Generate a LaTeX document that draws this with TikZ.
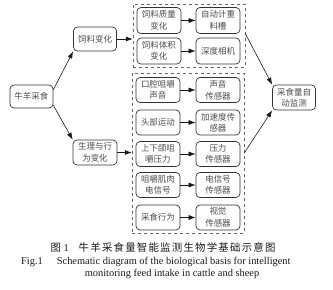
\documentclass[tikz,border=0pt]{standalone}
\usepackage{fontspec}
\setmainfont{Liberation Serif}
\newfontfamily\cjk{Noto Sans CJK SC}
\newfontfamily\capcjk[LetterSpace=12]{Noto Sans CJK SC}
\usetikzlibrary{arrows.meta}
\begin{document}
\begin{tikzpicture}[x=1pt,y=-1pt,
  box/.style={draw=black!80, line width=0.7pt, rounded corners=4pt, minimum width=44pt, minimum height=25pt,
    inner sep=0pt, align=center, text=black!70, font=\cjk\fontsize{8.5}{11.5}\selectfont},
  grp/.style={draw=black!60, dashed, line width=0.5pt, inner sep=0pt},
  arr/.style={-{Latex[length=7pt,width=5pt]}, line width=0.6pt, black!90},
  captext/.style={font=\fontsize{10.4}{12}\selectfont, inner sep=0pt, text=black!90}]
\useasboundingbox (0,0) rectangle (333,290);
% groups
\node[grp, minimum width=112pt, minimum height=63pt] (g1) at (189,35.5) {};
\node[grp, minimum width=112pt, minimum height=160pt] (g2) at (188,153) {};
% main nodes
\node[box, minimum width=43pt, minimum height=23pt] (niu) at (31.5,96.5) {牛羊采食};
\node[box, minimum width=43pt, minimum height=24pt] (feed) at (95,39) {饲料变化};
\node[box] (phys) at (95,152.5) {生理与行\\为变化};
\node[box, minimum width=43pt] (mon) at (294,97.5) {采食量自\\动监测};
% group 1
\node[box, minimum height=26pt] (q1) at (159,20.5) {饲料质量\\变化};
\node[box, minimum height=26pt] (q2) at (159,51) {饲料体积\\变化};
\node[box, minimum height=26pt] (r1) at (218,20.5) {自动计重\\料槽};
\node[box, minimum height=26pt] (r2) at (218,51) {深度相机};
% group 2
\node[box] (a1) at (158,90) {口腔咀嚼\\声音};
\node[box] (a2) at (158,122.5) {头部运动};
\node[box] (a3) at (158,154) {上下颌咀\\嚼压力};
\node[box] (a4) at (158,185) {咀嚼肌肉\\电信号};
\node[box] (a5) at (158,217.5) {采食行为};
\node[box] (b1) at (218,90) {声音\\传感器};
\node[box] (b2) at (218,122.5) {加速度传\\感器};
\node[box] (b3) at (218,154) {压力\\传感器};
\node[box] (b4) at (218,185) {电信号\\传感器};
\node[box] (b5) at (218,217.5) {视觉\\传感器};
% arrows
\draw[arr] ([yshift=-5pt]niu.north east) -- (feed.south west);
\draw[arr] ([yshift=3pt]niu.south east) -- (phys.north west);
\draw[arr] (feed.east) -- (feed.east -| g1.west);
\draw[arr] (phys.east) -- (phys.east -| g2.west);
\foreach \i in {1,2} \draw[arr] (q\i.east) -- (r\i.west);
\foreach \i in {1,...,5} \draw[arr] (a\i.east) -- (b\i.west);
\draw[arr] ([yshift=2pt]g1.east) -- (mon.north west);
\draw[arr] (g2.east) -- (mon.south west);
% caption
\node[captext] (c1) at (163,247) {{\capcjk 图}~1\hspace{10pt}{\capcjk 牛羊采食量智能监测生物学基础示意图}};
\node[captext, anchor=west] (c2) at (21,262) {Fig.1\hspace{14pt}Schematic diagram of the biological basis for intelligent};
\node[captext] (c3) at (172,274) {monitoring feed intake in cattle and sheep};
\end{tikzpicture}
\end{document}
